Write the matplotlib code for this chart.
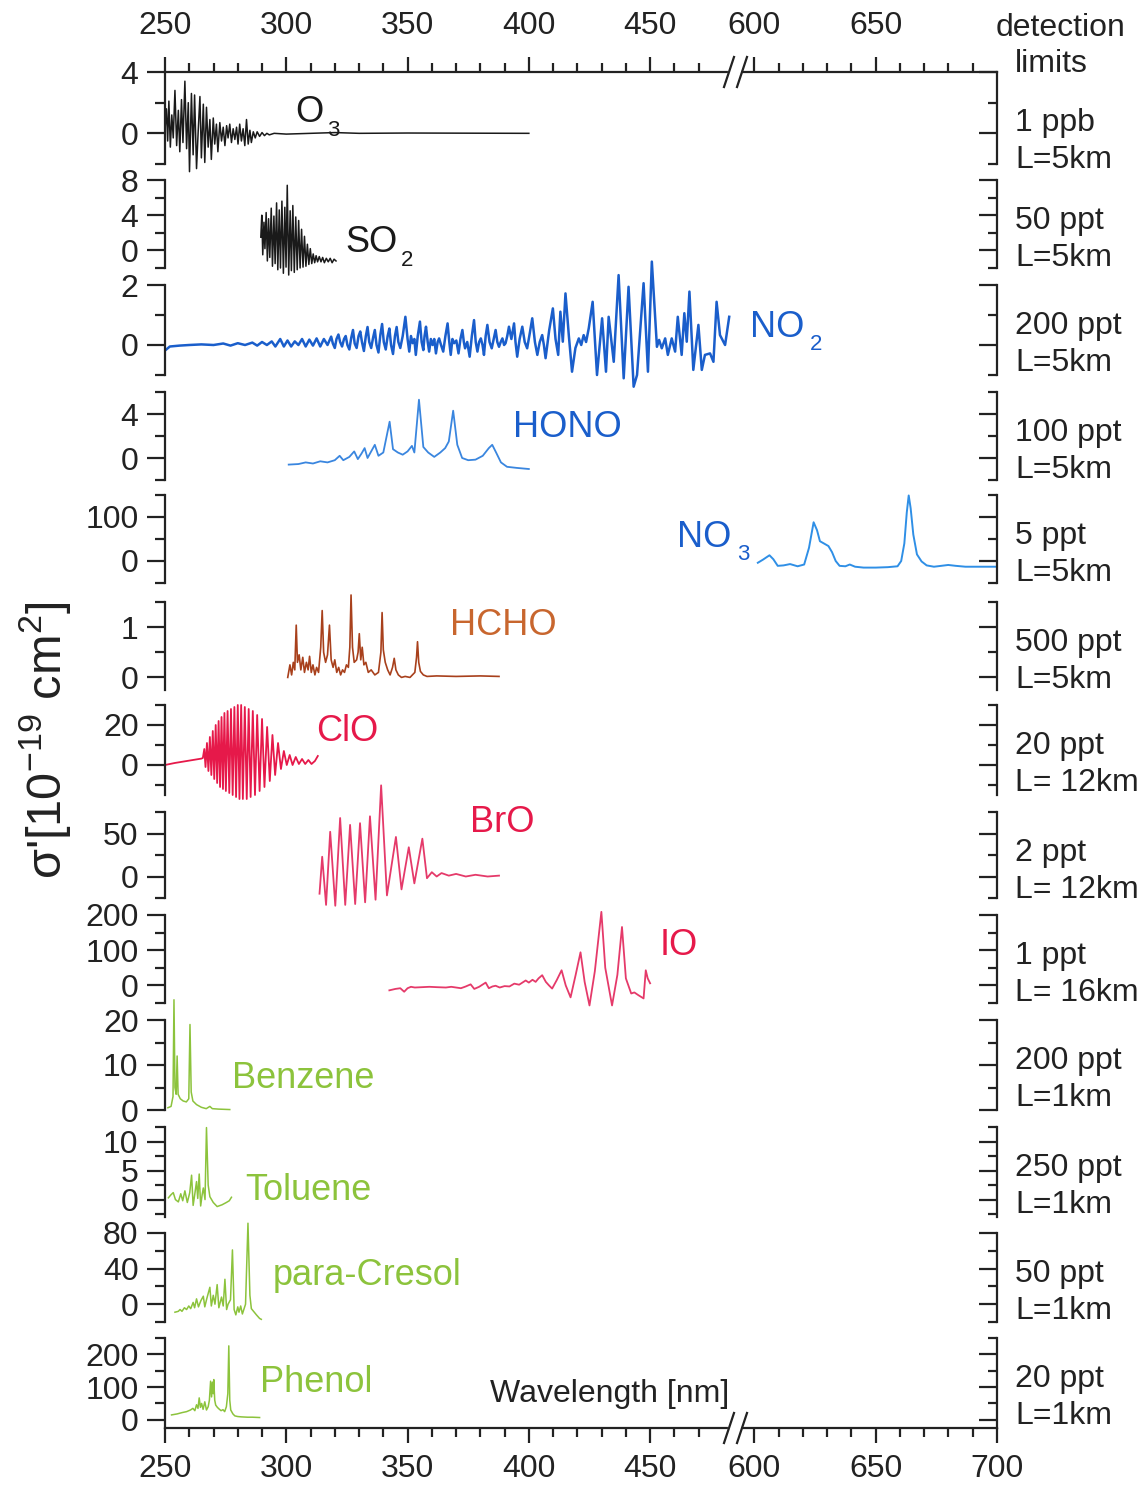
import matplotlib
matplotlib.use('Agg')
import matplotlib.pyplot as plt
import numpy as np
from matplotlib.lines import Line2D
from matplotlib.ticker import FixedLocator

plt.rcParams['font.family'] = ['Liberation Sans', 'DejaVu Sans']
plt.rcParams['mathtext.fontset'] = 'custom'
plt.rcParams['mathtext.rm'] = 'Liberation Sans'
plt.rcParams['mathtext.it'] = 'Liberation Sans:italic'
plt.rcParams['mathtext.default'] = 'regular'

# ---- spectra: (wavelength nm, sigma') ----
o3 = [(250.0, 0.2), (250.6, 1.6), (251.1, -0.5), (251.6, 2.1), (252.2, -0.9), (252.8, 1.2),
      (253.4, -0.3), (254.1, 2.8), (254.8, -0.8), (255.5, 1.5), (256.1, -1.2), (256.8, 2.2),
      (257.4, -0.6), (258.2, 3.4), (258.9, -1.0), (259.6, 2.0), (260.1, -2.5), (260.9, 2.6),
      (261.6, -1.4), (262.2, 2.5), (263.0, -2.3), (263.7, 0.2), (264.4, 2.4), (265.0, -1.6),
      (265.8, 1.9), (266.4, -1.9), (267.1, 1.7), (267.8, -0.9), (268.5, 0.9), (269.1, -1.7),
      (269.9, 1.0), (270.5, -0.7), (271.2, 0.6), (271.8, -1.2), (272.6, 0.7), (273.3, -0.5),
      (274.0, 0.4), (274.7, -0.8), (275.4, 0.5), (276.0, -0.3), (276.7, 0.6), (277.4, -0.6),
      (278.1, 0.3), (278.8, -0.4), (279.5, 0.4), (280.1, -0.7), (280.8, 0.6), (281.5, -0.5),
      (282.2, 0.3), (282.9, -0.8), (283.6, 0.9), (284.3, -0.7), (285.0, 0.2), (285.6, -0.6),
      (286.4, 0.1), (287.2, -0.3), (288.0, 0.1), (289.0, -0.2), (290.0, 0.05), (291.0, -0.15),
      (292.0, 0.0), (293.0, -0.1), (295.0, 0.0), (300.0, -0.05), (310.0, 0.0), (320.0, 0.05),
      (330.0, 0.0), (350.0, 0.02), (400.0, 0.0)]

so2 = [(289.5, 1.5), (289.9, 4.0), (290.3, -0.5), (290.8, 3.2), (291.2, 0.2), (291.7, 4.3),
       (292.2, -1.2), (292.7, 3.6), (293.2, -0.8), (293.8, 4.8), (294.3, -1.8), (294.9, 3.9),
       (295.4, -1.5), (296.0, 5.4), (296.5, -2.2), (297.1, 4.6), (297.6, -2.0), (298.2, 5.6),
       (298.8, -2.6), (299.4, 4.9), (299.9, -1.9), (300.4, 7.4), (301.0, -2.8), (301.6, 4.5),
       (302.1, -2.3), (302.7, 5.1), (303.3, -2.5), (303.9, 3.8), (304.5, -2.2), (305.1, 3.4),
       (305.7, -2.0), (306.3, 2.4), (306.9, -1.9), (307.5, 1.6), (308.1, -1.8), (308.7, 0.7),
       (309.3, -1.6), (309.9, 0.2), (310.5, -1.5), (311.1, -0.4), (311.7, -1.4), (312.3, -0.6),
       (312.9, -1.3), (313.6, -0.7), (314.3, -1.3), (315.0, -0.8), (315.7, -1.4), (316.5, -0.9),
       (317.3, -1.3), (318.1, -0.9), (318.9, -1.4), (319.7, -1.0), (320.5, -1.2)]

no2 = [(250.5, -0.15), (252.0, -0.05), (256.0, -0.02), (260.0, 0.0), (265.0, 0.02), (270.0, 0.0),
       (274.0, 0.05), (277.0, -0.02), (280.0, 0.06), (283.0, 0.0), (286.0, 0.08), (288.0, -0.02),
       (290.0, 0.1), (292.0, 0.0), (294.0, 0.12), (295.5, -0.05), (297.5, 0.2), (299.0, -0.05),
       (300.5, 0.15), (302.0, -0.05), (303.5, 0.12), (305.0, 0.0), (306.5, 0.2), (308.0, -0.05),
       (309.5, 0.18), (311.0, -0.02), (312.5, 0.22), (314.0, -0.05), (315.5, 0.2), (317.0, 0.0),
       (318.5, 0.28), (319.2, 0.05), (320.0, -0.1), (320.7, 0.2), (321.5, 0.35), (322.2, 0.1),
       (323.0, -0.05), (323.8, 0.2), (324.5, 0.3), (325.2, 0.0), (326.0, -0.15), (326.8, 0.25),
       (327.5, 0.5), (328.2, 0.05), (329.0, -0.1), (329.8, 0.3), (330.5, 0.45), (331.2, 0.1),
       (332.0, -0.2), (332.8, 0.3), (333.5, 0.6), (334.2, 0.1), (335.0, -0.1), (335.8, 0.25),
       (336.5, 0.5), (337.2, 0.0), (338.0, -0.25), (338.8, 0.35), (339.5, 0.7), (340.2, 0.1),
       (341.0, -0.15), (341.8, 0.3), (342.5, 0.55), (343.2, 0.0), (344.0, -0.3), (344.8, 0.3),
       (345.5, 0.6), (346.2, 0.1), (347.0, -0.1), (348.0, 0.3), (349.1, 0.94), (350.0, 0.2),
       (350.7, -0.22), (351.4, 0.3), (352.1, 0.06), (352.8, 0.2), (353.4, -0.33), (354.2, 0.3),
       (355.1, 0.78), (355.8, 0.1), (356.5, -0.17), (357.0, 0.3), (357.6, 0.61), (358.3, 0.1),
       (358.9, -0.22), (359.6, 0.2), (360.3, 0.0), (361.0, 0.2), (361.7, -0.28), (362.4, 0.1),
       (363.0, 0.22), (363.8, 0.0), (364.7, -0.22), (365.6, 0.3), (366.5, 0.72), (367.2, 0.1),
       (367.8, -0.33), (368.5, 0.2), (369.2, 0.06), (370.1, 0.15), (371.0, -0.28), (371.8, 0.2),
       (372.6, 0.5), (373.2, 0.1), (373.7, -0.11), (374.6, 0.1), (375.6, -0.39), (376.5, 0.3),
       (377.4, 0.83), (378.1, 0.1), (378.8, -0.22), (379.5, 0.1), (380.2, 0.22), (380.9, 0.0),
       (381.5, -0.33), (382.2, 0.3), (382.9, 0.67), (383.8, 0.1), (384.7, -0.11), (385.5, 0.2),
       (386.3, 0.5), (387.0, 0.1), (387.7, -0.06), (388.4, 0.1), (389.1, 0.22), (389.8, 0.0),
       (390.4, 0.06), (391.1, 0.3), (391.8, 0.61), (392.8, 0.2), (393.9, 0.72), (394.5, 0.1),
       (395.2, -0.39), (396.2, 0.2), (397.3, 0.61), (398.3, 0.1), (399.3, -0.11), (400.4, 0.4),
       (401.4, 0.89), (402.5, 0.1), (403.5, -0.33), (404.5, 0.1), (405.5, 0.33), (406.2, 0.0),
       (406.9, -0.44), (408.4, 0.5), (409.9, 1.22), (411.0, 0.2), (412.1, -0.33), (413.0, 1.11),
       (414.0, 0.11), (415.1, 1.72), (416.5, 0.3), (417.8, -0.89), (419.2, -0.1), (420.6, 0.22),
       (421.6, 0.0), (422.6, 0.33), (423.6, 0.1), (424.7, 0.56), (426.3, 1.44), (428.1, -1.0),
       (430.2, 0.89), (431.8, -0.89), (432.9, 0.94), (435.0, -0.56), (437.0, 2.33), (439.1, -1.11),
       (441.1, 1.94), (443.2, -1.39), (444.6, -1.0), (447.3, 2.06), (449.1, -0.89), (450.7, 2.78),
       (452.8, -0.06), (453.7, 0.17), (454.8, -0.11), (456.2, 0.22), (457.3, -0.33), (458.9, 0.22),
       (460.3, -0.22), (461.4, 0.94), (463.0, -0.33), (464.1, 1.06), (465.1, 0.11), (466.2, 1.78),
       (467.8, -0.83), (469.9, 0.67), (471.3, -0.83), (472.6, -0.33), (474.7, -0.28), (476.1, -0.56),
       (477.4, 1.44), (478.8, 0.33), (480.9, 0.0), (482.6, 0.94)]

hono = [(301.0, -0.6), (305.0, -0.55), (308.0, -0.4), (311.0, -0.5), (314.0, -0.3), (317.0, -0.4),
        (320.0, -0.2), (322.0, 0.2), (323.5, -0.2), (326.0, 0.1), (328.0, 0.6), (329.5, -0.1),
        (331.0, 0.4), (332.3, 0.9), (333.5, 0.0), (335.0, 0.6), (336.5, 1.2), (338.0, 0.2),
        (340.0, 0.5), (342.6, 3.3), (344.0, 0.8), (346.0, 0.5), (348.0, 0.3), (350.0, 0.6),
        (351.8, 1.1), (352.8, 0.5), (354.7, 5.3), (356.5, 1.0), (358.5, 0.5), (361.0, 0.1),
        (363.5, 0.5), (365.5, 0.9), (367.0, 1.5), (368.8, 4.3), (370.5, 1.2), (372.5, 0.0),
        (375.0, -0.2), (378.0, -0.15), (381.0, 0.2), (383.5, 0.9), (384.9, 1.2), (386.5, 0.5),
        (388.5, -0.4), (391.0, -0.8), (395.0, -0.9), (400.0, -1.0)]

no3 = [(601.4, -4), (603.5, 3), (606.2, 13), (607.8, 4), (609.6, -11), (612.0, -10), (614.7, -7),
       (617.8, -12), (620.5, -8), (622.5, 30), (624.4, 88), (625.8, 70), (627.0, 45), (628.6, 40),
       (630.5, 34), (632.0, 20), (633.5, 0), (635.1, -11), (637.5, -12), (639.3, -8), (641.5, -13),
       (645.0, -15), (650.0, -15), (655.0, -14), (659.0, -12), (660.5, 0), (661.8, 40), (662.8, 110),
       (663.6, 149), (664.4, 120), (665.5, 60), (667.0, 15), (668.9, -1), (671.0, -10), (674.0, -13),
       (677.0, -11), (679.9, -9), (683.0, -11), (687.0, -13), (693.0, -13), (700.0, -13)]

hcho = [(300.6, 0.0), (301.5, 0.25), (302.2, 0.05), (302.9, 0.3), (303.5, 0.15), (304.1, 1.04),
        (304.6, 0.3), (305.3, 0.45), (306.0, 0.15), (306.8, 0.4), (307.5, 0.1), (308.3, 0.3),
        (309.0, 0.15), (309.6, 0.42), (310.3, 0.1), (311.0, 0.25), (311.8, 0.05), (312.5, 0.2),
        (313.3, 0.1), (314.2, 0.6), (314.8, 1.33), (315.4, 0.5), (316.2, 0.3), (317.0, 0.45),
        (317.8, 1.04), (318.5, 0.35), (319.3, 0.2), (320.0, 0.35), (320.8, 0.1), (321.6, 0.2),
        (322.4, 0.05), (323.2, 0.15), (324.0, 0.1), (324.8, 0.25), (325.6, 0.2), (326.2, 0.6),
        (326.7, 1.64), (327.3, 0.6), (328.0, 0.3), (329.0, 0.35), (329.6, 0.5), (330.1, 0.87),
        (330.7, 0.35), (331.3, 0.6), (332.0, 0.25), (332.8, 0.3), (333.8, 0.1), (335.0, 0.15),
        (336.5, 0.05), (338.0, 0.1), (339.0, 0.5), (339.5, 1.29), (340.0, 0.55), (340.8, 0.3),
        (341.8, 0.15), (342.8, 0.05), (343.8, 0.2), (344.5, 0.38), (345.2, 0.15), (346.2, 0.05),
        (347.5, 0.0), (349.0, 0.02), (351.0, 0.0), (353.0, 0.1), (353.7, 0.4), (354.1, 0.71),
        (354.6, 0.3), (355.3, 0.12), (356.5, 0.05), (358.0, 0.02), (362.0, 0.03), (370.0, 0.02),
        (380.0, 0.03), (387.7, 0.02)]

clo = [(250.0, 0.0), (254.0, 1.0), (258.0, 1.8), (262.0, 2.6), (265.0, 3.2), (265.6, 3.5),
       (266.2, 8), (266.7, -1), (267.3, 11), (267.9, -3), (268.5, 14), (269.1, -5), (269.7, 17),
       (270.3, -7), (270.9, 20), (271.5, -9), (272.1, 22), (272.7, -11), (273.3, 24), (273.9, -12),
       (274.5, 26), (275.1, -13), (275.8, 27), (276.5, -14), (277.2, 28), (277.9, -15), (278.6, 29),
       (279.3, -16), (280.0, 30), (280.7, -17), (281.4, 30), (282.1, -17), (282.9, 29), (283.7, -17),
       (284.5, 28), (285.3, -16), (286.2, 27), (287.1, -15), (288.0, 25), (289.0, -13), (290.0, 23),
       (291.0, -11), (292.1, 19), (293.2, -8), (294.3, 15), (295.4, -5), (296.6, 11), (297.8, -2),
       (299.0, 7), (300.2, 0), (301.4, 5), (302.6, 0), (303.9, 4), (305.2, 0.5), (306.5, 3),
       (307.8, 0.5), (309.1, 2.5), (310.4, 0.5), (311.8, 2), (313.0, 4.5)]

bro = [(313.7, -20), (314.8, 23), (316.4, -33), (318.1, 52), (320.2, -34), (322.2, 68), (324.3, -33),
       (326.3, 60), (328.4, -32), (330.4, 62), (332.5, -30), (334.5, 70), (336.8, -27), (339.1, 106),
       (341.5, -22), (345.2, 46), (347.5, -15), (350.5, 34), (352.8, -8), (356.1, 44), (358.0, -2),
       (360.0, 5), (362.0, 0), (364.0, 4), (367.0, 1), (370.0, 3), (374.0, 0), (378.0, 2),
       (383.0, 0), (387.7, 1)]

io = [(342.5, -14), (345.0, -10), (347.0, -8), (348.6, -18), (350.0, -8), (351.4, -4), (353.0, -6),
      (356.0, -5), (359.0, -4), (362.0, -5), (365.8, -6), (368.0, -4), (372.0, -8), (374.0, -3),
      (376.0, 3), (377.5, -10), (379.5, -4), (382.2, 8), (383.5, -8), (385.0, -3), (386.3, -1),
      (388.0, -6), (390.0, -2), (392.0, -3), (394.0, 5), (396.0, 2), (398.7, 14), (400.0, 8),
      (401.5, 16), (402.8, 10), (404.0, 20), (405.5, 29), (407.0, 10), (408.3, 0), (409.6, -9),
      (411.5, 15), (413.5, 43), (415.2, 0), (417.2, -34), (419.3, 30), (421.3, 94), (423.0, 10),
      (425.0, -57), (427.2, 40), (429.9, 209), (431.5, 50), (434.3, -57), (436.5, 30), (438.4, 166),
      (440.0, 20), (442.2, -23), (443.5, -20), (445.2, -28), (447.3, -37), (448.2, 43), (449.0, 20),
      (450.0, 6)]

benzene = [(251.2, 0.5), (252.5, 0.8), (253.3, 3), (253.7, 24.5), (254.1, 5), (254.6, 3.5),
           (255.0, 12), (255.4, 3.5), (256.3, 2.5), (257.5, 2.0), (258.8, 1.8), (259.8, 2.5),
           (260.3, 19), (260.8, 4), (261.5, 2), (263.0, 1.2), (265.0, 0.6), (267.0, 0.3),
           (268.5, 0.8), (269.5, 0.3), (272.0, 0.2), (276.7, 0.1)]

toluene = [(251.4, 0.3), (252.4, 0.8), (253.4, 1.2), (254.3, 0.0), (255.5, -0.4), (256.5, 1.0),
           (257.3, -0.2), (258.2, 1.5), (259.2, -0.5), (260.2, 1.2), (260.96, 4.2), (261.6, -1.0),
           (262.3, 1.0), (263.0, 3.1), (263.5, 0.2), (264.1, 4.4), (264.7, -1.1), (265.3, 0.8),
           (265.8, 2.0), (266.5, 0.0), (267.1, 12.4), (267.8, 2.5), (268.5, 0.5), (269.9, -0.5),
           (271.5, -1.2), (273.5, -0.9), (275.3, -0.5), (276.5, -0.2), (277.4, 0.4)]

cresol = [(254.1, -9), (255.5, -8), (256.2, -6), (257.0, -8), (258.0, -4), (258.9, -6), (259.8, -2),
          (260.6, -5), (261.6, 2), (262.2, -4), (263.0, 6), (263.8, -3), (264.8, 4), (265.8, 9),
          (266.4, -3), (267.2, 6), (268.5, 19), (269.1, -2), (269.9, 10), (270.6, 0), (271.5, 22),
          (272.2, -4), (273.3, 8), (274.0, -2), (274.7, 28), (275.4, -6), (276.0, 0), (277.0, 5),
          (277.8, 61), (278.5, -6), (279.2, -12), (280.0, -3), (280.5, -9), (281.2, -2), (281.9, -11),
          (283.2, 0), (284.2, 91), (285.0, 10), (285.6, -5), (286.5, -8), (287.7, -12), (289.0, -16),
          (289.7, -17)]

phenol = [(252.7, 15), (255.0, 18), (257.0, 22), (258.9, 25), (260.5, 30), (261.5, 35), (262.3, 28),
          (263.0, 46), (263.6, 35), (264.1, 67), (264.6, 38), (265.1, 50), (265.7, 32), (266.4, 55),
          (267.1, 30), (267.8, 40), (268.3, 60), (268.8, 118), (269.2, 70), (269.6, 115), (269.9, 80),
          (270.1, 123), (270.5, 60), (270.9, 45), (271.6, 38), (272.3, 33), (273.1, 28), (273.9, 31),
          (274.6, 25), (275.3, 40), (275.9, 80), (276.3, 226), (276.7, 60), (277.1, 30), (278.0, 18),
          (278.8, 12), (280.0, 10), (281.5, 9), (284.0, 8), (286.0, 8), (289.0, 7)]

x_major_top = [250, 300, 350, 400, 450, 600, 650]
x_major_bottom = [250, 300, 350, 400, 450, 600, 650, 700]
x_minor = [260, 270, 280, 290, 310, 320, 330, 340, 360, 370, 380, 390, 410, 420, 430, 440,
           460, 470, 610, 620, 630, 640, 660, 670, 680, 690]

limits = [("1 ppb", "L=5km"), ("50 ppt", "L=5km"), ("200 ppt", "L=5km"), ("100 ppt", "L=5km"),
          ("5 ppt", "L=5km"), ("500 ppt", "L=5km"), ("20 ppt", "L= 12km"), ("2 ppt", "L= 12km"),
          ("1 ppt", "L= 16km"), ("200 ppt", "L=1km"), ("250 ppt", "L=1km"), ("50 ppt", "L=1km"),
          ("20 ppt", "L=1km")]

W, H = 1144, 1485
fig = plt.figure(figsize=(W / 100, H / 100), dpi=100)
INK = '#222222'
BLUE, BLUE2, BLUE3 = '#1a5ecb', '#3a86df', '#2f8fe6'
RED, RED2 = '#e6194a', '#e53a6a'
GREEN = '#8cc33c'
TICK_FS = 23


def fx(px):
    return px / W


def fy(py):
    return 1 - py / H


# broken wavelength axis: 485-592.5 nm squeezed out
XP = [0, 250, 485, 592.5, 700, 2000]
FP = [0, 250, 485, 485.5, 593, 1893]


def fwd(x):
    return np.interp(x, XP, FP)


def inv(x):
    return np.interp(x, FP, XP)


# label: (text, sub, left px, baseline px, sub left px, sub baseline px)
panels = [
    dict(d=o3, c='#1a1a1a', lw=1.1, ylim=(-2, 4), mj=[0, 4], mn=[-2, 2], box=(72, 164),
         lab=("O", "3", 295, 122, 327, 136), lc='#1a1a1a'),
    dict(d=so2, c='#1a1a1a', lw=1.1, ylim=(-2, 8), mj=[0, 4, 8], mn=[-2, 2, 6], box=(180, 268),
         lab=("SO", "2", 345, 252, 401, 266), lc='#1a1a1a'),
    dict(d=no2, c=BLUE, lw=1.8, ylim=(-1, 2), mj=[0, 2], mn=[-1, 1], box=(285, 375),
         lab=("NO", "2", 750, 337, 810, 350), lc=BLUE),
    dict(d=hono, c=BLUE2, lw=1.3, ylim=(-2, 6), mj=[0, 4], mn=[-2, 2, 6], box=(392, 480),
         lab=("HONO", None, 513, 437, 0, 0), lc=BLUE),
    dict(d=no3, c=BLUE3, lw=1.4, ylim=(-50, 150), mj=[0, 100], mn=[-50, 50, 150], box=(495, 583),
         lab=("NO", "3", 677, 547, 737, 560), lc=BLUE),
    dict(d=hcho, c='#a8401c', lw=1.2, ylim=(-0.25, 1.5), mj=[0, 1], mn=[0.5, 1.5], box=(602, 690),
         lab=("HCHO", None, 450, 635, 0, 0), lc='#c8662e'),
    dict(d=clo, c=RED, lw=1.3, ylim=(-15, 30), mj=[0, 20], mn=[-10, 10, 30], box=(705, 795),
         lab=("ClO", None, 316, 741, 0, 0), lc=RED),
    dict(d=bro, c=RED2, lw=1.3, ylim=(-25, 75), mj=[0, 50], mn=[-25, 25, 75], box=(812, 898),
         lab=("BrO", None, 470, 832, 0, 0), lc=RED),
    dict(d=io, c=RED2, lw=1.3, ylim=(-50, 200), mj=[0, 100, 200], mn=[-50, 50, 150], box=(915, 1003),
         lab=("IO", None, 660, 955, 0, 0), lc=RED),
    dict(d=benzene, c=GREEN, lw=1.1, ylim=(0, 20), mj=[0, 10, 20], mn=[5, 15], box=(1020, 1110),
         lab=("Benzene", None, 232, 1088, 0, 0), lc=GREEN),
    dict(d=toluene, c=GREEN, lw=1.1, ylim=(-3, 12.5), mj=[0, 5, 10], mn=[-2.5, 2.5, 7.5, 12.5],
         box=(1127, 1217), lab=("Toluene", None, 245, 1200, 0, 0), lc=GREEN),
    dict(d=cresol, c=GREEN, lw=1.1, ylim=(-20, 80), mj=[0, 40, 80], mn=[-20, 20, 60], box=(1233, 1322),
         lab=("para-Cresol", None, 273, 1285, 0, 0), lc=GREEN),
    dict(d=phenol, c=GREEN, lw=1.1, ylim=(-25, 250), mj=[0, 100, 200], mn=[50, 150, 250], box=(1338, 1428),
         lab=("Phenol", None, 260, 1392, 0, 0), lc=GREEN),
]

n = len(panels)
for i, p in enumerate(panels):
    top, bot = p['box']
    ax = fig.add_axes([fx(165), fy(bot), (997 - 165) / W, (bot - top) / H])
    ax.patch.set_visible(False)
    ax.set_xscale('function', functions=(fwd, inv))
    ax.set_xlim(250, 700)
    ax.set_ylim(*p['ylim'])
    nm, val = zip(*p['d'])
    ax.plot(nm, val, color=p['c'], lw=p['lw'], clip_on=False)

    for s in ['top', 'bottom', 'right']:
        ax.spines[s].set_visible(False)
    ax.spines['left'].set_linewidth(1.6)
    ax.spines['left'].set_color(INK)
    ax.set_yticks(p['mj'])
    ax.yaxis.set_minor_locator(FixedLocator(p['mn']))
    ax.tick_params(axis='y', which='major', direction='out', length=13, width=1.6,
                   color=INK, labelsize=TICK_FS, labelcolor=INK, pad=6)
    ax.tick_params(axis='y', which='minor', direction='out', length=7, width=1.6, color=INK)

    # right side: inward ticks, no labels
    ax2 = ax.twinx()
    ax2.set_ylim(*p['ylim'])
    ax2.set_yticks(p['mj'])
    ax2.yaxis.set_minor_locator(FixedLocator(p['mn']))
    for s in ['top', 'bottom', 'left']:
        ax2.spines[s].set_visible(False)
    ax2.spines['right'].set_linewidth(1.6)
    ax2.spines['right'].set_color(INK)
    ax2.tick_params(axis='y', which='major', direction='in', length=13, width=1.6,
                    color=INK, labelright=False)
    ax2.tick_params(axis='y', which='minor', direction='in', length=6.5, width=1.6, color=INK)

    ax.set_xticks(x_major_bottom)
    ax.xaxis.set_minor_locator(FixedLocator(x_minor))
    if i == 0:
        ax.spines['top'].set_visible(True)
        ax.spines['top'].set_linewidth(1.6)
        ax.spines['top'].set_color(INK)
        ax.set_xticks(x_major_top)
        ax.xaxis.set_ticks_position('top')
        ax.tick_params(axis='x', which='major', direction='out', length=11, width=1.6, color=INK,
                       labelsize=TICK_FS, labelcolor=INK, pad=11, top=True, bottom=False,
                       labeltop=True, labelbottom=False)
        ax.tick_params(axis='x', which='minor', direction='out', length=6.5, width=1.6, color=INK,
                       top=True, bottom=False)
    elif i == n - 1:
        ax.spines['bottom'].set_visible(True)
        ax.spines['bottom'].set_linewidth(1.6)
        ax.spines['bottom'].set_color(INK)
        ax.tick_params(axis='x', which='major', direction='out', length=11, width=1.6, color=INK,
                       labelsize=TICK_FS, labelcolor=INK, pad=8)
        ax.tick_params(axis='x', which='minor', direction='out', length=6.5, width=1.6, color=INK)
    else:
        ax.tick_params(axis='x', which='both', bottom=False, top=False,
                       labelbottom=False, labeltop=False)

    # species label
    txt, sub, lx, ly, sx, sy = p['lab']
    fig.text(fx(lx), fy(ly), txt, fontsize=26, color=p['lc'], va='baseline', ha='left')
    if sub:
        fig.text(fx(sx), fy(sy), sub, fontsize=16, color=p['lc'], va='baseline', ha='left')

    # detection limit
    l1, l2 = limits[i]
    mid = top + 40 if i else top + 50
    fig.text(fx(1015), fy(mid + 9), l1, fontsize=TICK_FS, color=INK, va='baseline', ha='left')
    fig.text(fx(1015), fy(mid + 46), l2, fontsize=TICK_FS, color=INK, va='baseline', ha='left')

# axis break marks on top and bottom spines
for yb in (72, 1428):
    fig.add_artist(Line2D([fx(730), fx(739)], [fy(yb), fy(yb)], color='white', lw=3))
    for x0 in (724, 737):
        fig.add_artist(Line2D([fx(x0), fx(x0 + 10)], [fy(yb + 15), fy(yb - 15)], color=INK, lw=1.6))

fig.text(fx(1061), fy(36), "detection", fontsize=TICK_FS, color=INK, ha='center', va='baseline')
fig.text(fx(1051), fy(72), "limits", fontsize=TICK_FS, color=INK, ha='center', va='baseline')
fig.text(fx(490), fy(1402), "Wavelength [nm]", fontsize=TICK_FS, color=INK, ha='left', va='baseline')
fig.text(fx(45), fy(740), "σ'[10$^{-19}$ cm$^2$]", fontsize=35, color=INK, rotation=90,
         ha='center', va='center')

fig.savefig('out.png', dpi=100)
